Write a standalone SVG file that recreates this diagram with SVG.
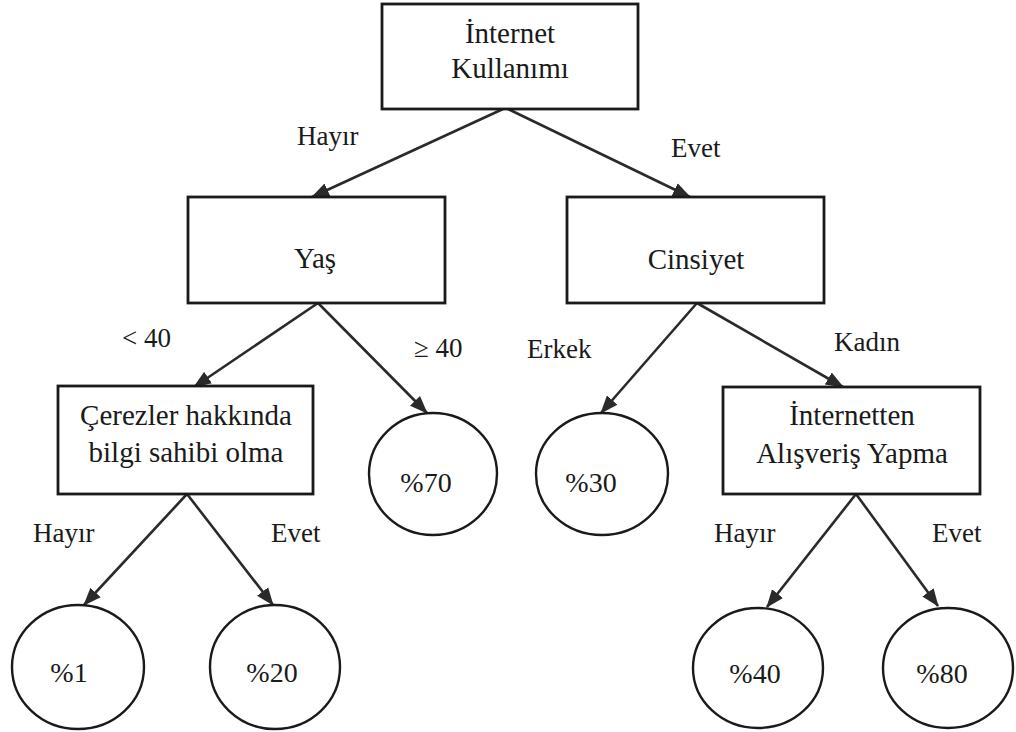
<svg xmlns="http://www.w3.org/2000/svg" width="1016" height="732" viewBox="0 0 1016 732">
<style>
.box{fill:#fff;stroke:#1a1a1a;stroke-width:2.8}
.leaf{fill:#fff;stroke:#1a1a1a;stroke-width:2.4}
.t{font-family:"Liberation Serif","DejaVu Serif",serif;font-size:29px;fill:#1a1a1a;text-anchor:middle}
.p{font-family:"Liberation Serif","DejaVu Serif",serif;font-size:28px;fill:#1a1a1a;text-anchor:middle}
.lb{font-family:"Liberation Serif","DejaVu Serif",serif;font-size:27px;fill:#1a1a1a}
.c{fill:none;stroke:#2a2a2a;stroke-width:2.6;marker-end:url(#ah)}
</style>
<defs>
<marker id="ah" markerUnits="userSpaceOnUse" markerWidth="18" markerHeight="16" viewBox="0 0 18 16" refX="17" refY="8" orient="auto">
<path d="M0,1 L18,8 L0,15 Z" fill="#2a2a2a"/>
</marker>
</defs>
<rect width="1016" height="732" fill="#fff"/>
<g id="connectors">
<line class="c" x1="503" y1="109" x2="312" y2="197"/>
<line class="c" x1="508" y1="109" x2="690" y2="197"/>
<line class="c" x1="318" y1="303" x2="194" y2="387"/>
<line class="c" x1="318" y1="303" x2="427" y2="413"/>
<line class="c" x1="697" y1="303" x2="601" y2="413"/>
<line class="c" x1="697" y1="303" x2="843" y2="387"/>
<line class="c" x1="187" y1="494" x2="84" y2="605"/>
<line class="c" x1="187" y1="494" x2="273" y2="605"/>
<line class="c" x1="856" y1="494" x2="767" y2="607"/>
<line class="c" x1="856" y1="494" x2="938" y2="606"/>
</g>
<g id="edge-labels">
<text class="lb" x="297" y="145">Hayır</text>
<text class="lb" x="671" y="157">Evet</text>
<text class="lb" x="122" y="347">&lt; 40</text>
<text class="lb" x="414" y="357">≥ 40</text>
<text class="lb" x="527" y="358">Erkek</text>
<text class="lb" x="834" y="351">Kadın</text>
<text class="lb" x="33" y="542">Hayır</text>
<text class="lb" x="271" y="542">Evet</text>
<text class="lb" x="714" y="542">Hayır</text>
<text class="lb" x="932" y="542">Evet</text>
</g>
<g id="node-internet">
<rect class="box" x="382" y="4" width="256" height="105"/>
<text class="t" x="510" y="43">İnternet</text>
<text class="t" x="510" y="78">Kullanımı</text>
</g>
<g id="node-yas">
<rect class="box" x="188" y="197" width="257" height="106"/>
<text class="t" x="315" y="268">Yaş</text>
</g>
<g id="node-cinsiyet">
<rect class="box" x="567" y="197" width="257" height="106"/>
<text class="t" x="696" y="269">Cinsiyet</text>
</g>
<g id="node-cerezler">
<rect class="box" x="58" y="386" width="255" height="108"/>
<text class="t" x="186" y="425">Çerezler hakkında</text>
<text class="t" x="186" y="462">bilgi sahibi olma</text>
</g>
<g id="node-alisveris">
<rect class="box" x="723" y="387" width="257" height="107"/>
<text class="t" x="852" y="425">İnternetten</text>
<text class="t" x="852" y="463">Alışveriş Yapma</text>
</g>
<g id="leaf-70">
<ellipse class="leaf" cx="433" cy="474" rx="64" ry="61"/>
<text class="p" x="426" y="492">%70</text>
</g>
<g id="leaf-30">
<ellipse class="leaf" cx="602" cy="474" rx="66" ry="61"/>
<text class="p" x="591" y="492">%30</text>
</g>
<g id="leaf-1">
<ellipse class="leaf" cx="78" cy="667" rx="66" ry="62"/>
<text class="p" x="69" y="682">%1</text>
</g>
<g id="leaf-20">
<ellipse class="leaf" cx="275" cy="667" rx="65" ry="62"/>
<text class="p" x="272" y="682">%20</text>
</g>
<g id="leaf-40">
<ellipse class="leaf" cx="758" cy="668" rx="65" ry="60"/>
<text class="p" x="755" y="683">%40</text>
</g>
<g id="leaf-80">
<ellipse class="leaf" cx="948" cy="668" rx="65" ry="60"/>
<text class="p" x="942" y="683">%80</text>
</g>
</svg>
